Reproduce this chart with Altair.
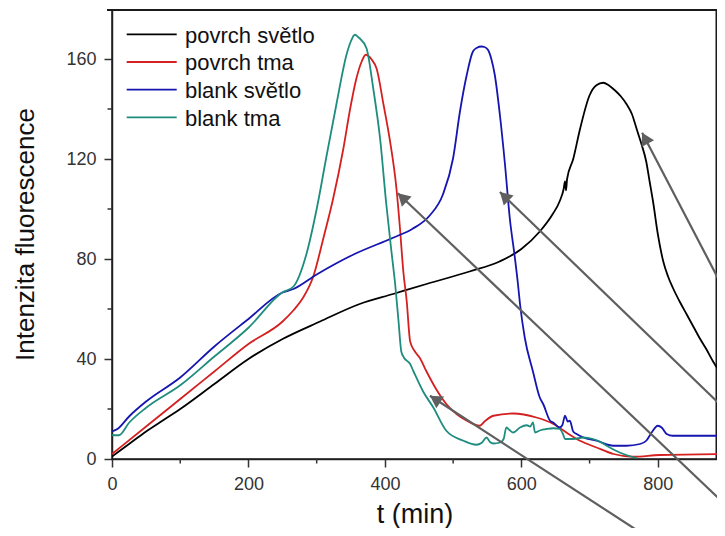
import altair as alt
import pandas as pd
import numpy as np

series = ["povrch světlo", "povrch tma", "blank světlo", "blank tma"]
colors = ["#000000", "#d42020", "#1515b0", "#1e8c7e"]

# povrch světlo (black)
ps_t = [0, 25, 50, 75, 100, 150, 200, 250, 305, 363, 412, 461, 524, 568, 600, 627, 646, 656, 662, 664,
        665.5, 667, 676, 686, 700, 710, 720, 728, 737, 746, 754, 762, 769, 776, 783, 788, 793, 800, 808,
        815, 822, 832, 842, 852, 861, 871, 881, 890, 897]
ps_v = [1, 6, 11, 15.5, 20, 30, 40, 48, 55, 62, 66, 70, 75, 79, 84, 91, 98, 103, 108, 111,
        107.5, 112, 120, 132, 145.5, 149.5, 150.5, 149.5, 147.5, 145, 142, 138, 132, 126, 119, 111, 103, 90, 79,
        73, 68.5, 63, 58, 53, 48.5, 44, 39, 35, 31]

# povrch tma (red)
pt_t = [0, 50, 100, 150, 200, 250, 266, 280, 295, 310, 324, 339, 349, 358, 366, 372, 380, 388, 398, 407,
        417, 422, 427, 432, 437, 444, 451, 461, 475, 490, 505, 520, 539, 546, 559, 588, 622, 647, 666, 686,
        710, 735, 764, 803, 897]
pt_v = [2, 13, 24, 35, 46, 55, 59.5, 64.5, 73, 88.5, 104, 124, 140, 152, 159, 161.7, 160, 156, 141.7, 128,
        108, 92.5, 75, 63, 47, 43, 40.5, 35, 28, 22, 18, 15.3, 13.3, 15, 17.3, 18.2, 16.6, 14, 10.6, 7.3,
        4.6, 2, 0.9, 1.6, 2]

# blank světlo (blue)
bs_t = [0, 8, 25, 50, 100, 150, 200, 249, 266, 300, 354, 412, 440, 466, 485, 500, 510, 520, 529, 535,
        541.5, 546, 551, 556, 561, 568.5, 576, 583, 590.5, 595, 598, 605, 617, 627, 632, 642, 647, 656,
        660, 664, 668, 671, 676, 681, 691, 710, 735, 754, 774, 783, 791, 800, 806, 813, 822, 857, 881, 897]
bs_v = [11, 12, 17, 23, 32.6, 45, 56, 66.5, 68, 73.8, 81.8, 88.5, 92, 97.5, 105.8, 120.4, 139, 153.7, 163, 164.5,
        165, 164.8, 163.7, 160, 153.7, 137.7, 117.8, 96.4, 80.5, 70, 62, 48.5, 35, 24.6, 22, 15.3, 14.5, 12.6,
        13.5, 17.3, 15, 15.3, 11, 10, 8.6, 7.3, 5.3, 5.3, 6, 7.3, 10.6, 13.3, 12.5, 10, 9.3, 9.3, 9.3, 9.3]

# blank tma (teal)
bt_t = [0, 10, 25, 50, 100, 150, 200, 249, 266, 285, 300, 315, 329, 344, 350, 356, 362, 373, 383, 393,
        402, 410, 415, 420, 424, 428, 437, 442, 456, 471, 490, 515, 534, 542, 549, 554, 559, 569, 574, 578,
        583, 588, 598, 608, 613, 617, 620, 628, 637, 647, 656, 661, 664, 676, 691, 705, 715, 725, 744, 758, 769]
bt_v = [9.5, 9.5, 14.5, 20.5, 29.5, 41, 52.5, 66.5, 69, 82, 100, 122, 142, 162, 167, 169.7, 168.5, 164.3, 148, 128,
        102, 82, 70, 55, 43, 40.5, 38, 35, 27, 20.6, 11.3, 7.3, 5.7, 6.5, 8.6, 6.8, 6.2, 6.6, 8, 12.6,
        11.5, 10.6, 12.6, 13.5, 13, 14.6, 10.6, 11.5, 12, 12.3, 12, 10, 8, 8, 8.6, 8, 7, 5.3, 2.6, 1.2, 0.4]

x_ticks = [0, 200, 400, 600, 800]
x_minor = [100, 300, 500, 700]
y_ticks = [0, 40, 80, 120, 160]
y_minor = [20, 60, 100, 140]

# annotation arrows (tip -> tail), data units
arrow_tip_t = [777, 568.5, 419, 466]
arrow_tip_v = [130.5, 106.8, 106.3, 25.3]
arrow_tail_t = [1080, 1042.6, 928, 834.4]
arrow_tail_v = [-28, -18, -25.8, -40]

# the page must not overflow the 725x536 window: svg <= 709 x 520
PAD_L, PAD_T, PAD_B = 104, 1, 69
W, H = 605, 450
KX = 612 / 897                     # px per minute as in the reference
XMAX, YMAX = W / KX, 180
FONT = "Liberation Sans"
kx, ky = KX, H / YMAX

rows = []
for name, ts, vs in zip(series, [ps_t, pt_t, bs_t, bt_t], [ps_v, pt_v, bs_v, bt_v]):
    for t, v in zip(ts, vs):
        rows.append({"series": name, "t": t, "v": v})
df = pd.DataFrame(rows)

xs = alt.Scale(domain=[0, XMAX], nice=False, zero=False)
ys = alt.Scale(domain=[0, YMAX], nice=False, zero=False)

xaxis = alt.Axis(values=x_ticks, title="t (min)", format="d", grid=False, labelFlush=False,
                 tickSize=8, tickWidth=1.5, tickColor="#333", domainColor="#333", domainWidth=1.5,
                 labelFont=FONT, labelFontSize=18, labelColor="#333", labelPadding=8,
                 titleFont=FONT, titleFontSize=27, titleFontWeight="normal", titleColor="#111",
                 titleY=63, titleBaseline="alphabetic")
yaxis = alt.Axis(values=y_ticks, title="Intenzita fluorescence", grid=False,
                 tickSize=8, tickWidth=1.5, tickColor="#333", domainColor="#333", domainWidth=1.5,
                 labelFont=FONT, labelFontSize=18, labelColor="#333", labelPadding=8,
                 titleFont=FONT, titleFontSize=26, titleFontWeight="normal", titleColor="#111",
                 titleX=-79, titleY=H / 2, titleAngle=270, titleBaseline="alphabetic", titleAlign="center")


def X(field):
    return alt.X(field, scale=xs, axis=xaxis, title="t (min)")


def Y(field):
    return alt.Y(field, scale=ys, axis=yaxis, title="Intenzita fluorescence")


lines = alt.Chart(df).mark_line(strokeWidth=1.8, clip=True, interpolate="monotone").encode(
    x=X("t:Q"),
    y=Y("v:Q"),
    color=alt.Color("series:N", scale=alt.Scale(domain=series, range=colors), legend=None),
    order=alt.Order("t:Q"),
)

xminor = alt.Chart(pd.DataFrame({"t": x_minor})).mark_rule(color="#333", strokeWidth=1.5).encode(
    x=X("t:Q"), y=alt.value(H), y2=alt.value(H + 4.5))
yminor = alt.Chart(pd.DataFrame({"v": y_minor})).mark_rule(color="#333", strokeWidth=1.5).encode(
    y=Y("v:Q"), x=alt.value(-4.5), x2=alt.value(0))

# plot frame (box around the plot area, the top edge thick)
frame = alt.Chart(pd.DataFrame({"k": ["frame"]})).mark_rect(
    fillOpacity=0, stroke="#1a1a1a", strokeWidth=1.5).encode(
    x=alt.value(0), x2=alt.value(W - 0.75), y=alt.value(0.75), y2=alt.value(H))
top_border = alt.Chart(pd.DataFrame({"k": ["top"]})).mark_rule(color="#1a1a1a", strokeWidth=2).encode(
    x=alt.value(-5), x2=alt.value(W), y=alt.value(1))

# arrows
arr = pd.DataFrame({"t": arrow_tip_t, "v": arrow_tip_v, "t2": arrow_tail_t, "v2": arrow_tail_v})
dxp = (arr["t2"] - arr["t"]) * kx
dyp = -(arr["v2"] - arr["v"]) * ky
ln = np.sqrt(dxp ** 2 + dyp ** 2)
ux, uy = dxp / ln, dyp / ln
hsize = 200
hoff = 0.866 * np.sqrt(hsize) / 2
arr["ht"] = arr["t"] + hoff * ux / kx
arr["hv"] = arr["v"] - hoff * uy / ky
arr["ang"] = (np.degrees(np.arctan2(-ux, uy)) + 360) % 360

arrow_lines = alt.Chart(arr).mark_rule(color="#5f5f5f", strokeWidth=2.2).encode(
    x=X("t:Q"), y=Y("v:Q"), x2="t2:Q", y2="v2:Q")
arrow_heads = alt.Chart(arr).mark_point(shape="triangle-up", filled=True, size=hsize,
                                        color="#5f5f5f", opacity=1).encode(
    x=X("ht:Q"), y=Y("hv:Q"), angle=alt.Angle("ang:Q", scale=None))

layers = [frame, lines, xminor, yminor, top_border, arrow_lines, arrow_heads]

# manual legend
for i, (name, col) in enumerate(zip(series, colors)):
    ly = 25.3 + 27.7 * i
    d = pd.DataFrame({"s": [name]})
    layers.append(alt.Chart(d).mark_rule(color=col, strokeWidth=1.8).encode(
        x=alt.value(14.7), x2=alt.value(64.7), y=alt.value(ly)))
    layers.append(alt.Chart(d).mark_text(align="left", baseline="alphabetic", font=FONT,
                                         fontSize=22, color="#111").encode(
        x=alt.value(73), y=alt.value(ly + 8.2), text="s:N"))

chart = alt.layer(*layers).properties(
    width=W, height=H,
    autosize=alt.AutoSizeParams(type="none"),
    padding={"left": PAD_L, "top": PAD_T, "right": 0, "bottom": PAD_B},
).configure_view(stroke=None)

chart.save("out.html", embed_options={"renderer": "svg", "actions": False})
